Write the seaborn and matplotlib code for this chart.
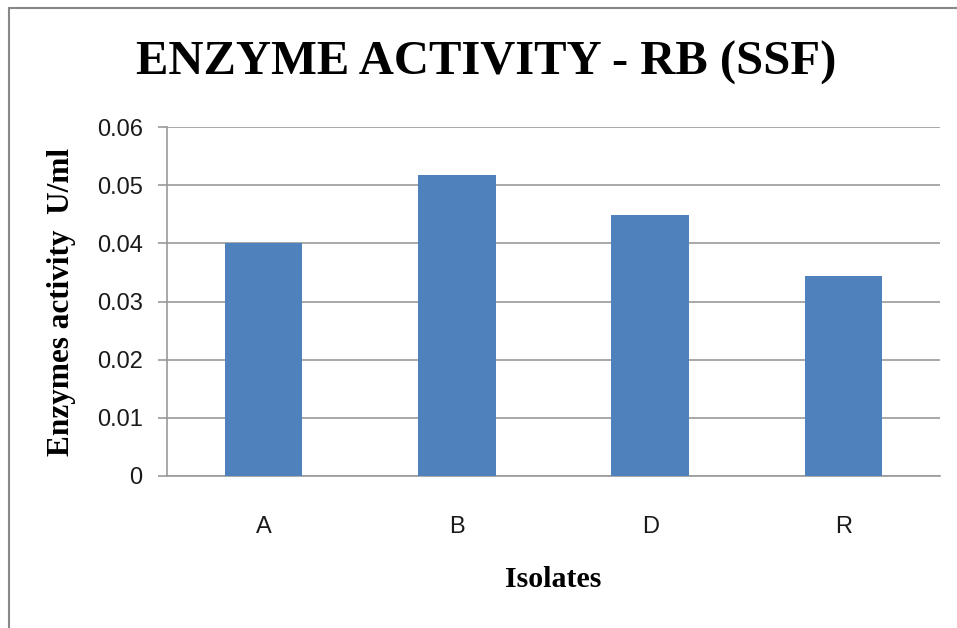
import numpy as np
import pandas as pd
import matplotlib
matplotlib.use("Agg")
import matplotlib.pyplot as plt
from matplotlib.lines import Line2D
import seaborn as sns

# data
isolates = ["A", "B", "D", "R"]
activity = [0.0400, 0.0518, 0.0449, 0.0344]

df = pd.DataFrame({"Isolates": isolates, "Activity": activity})

sns.set_style("white")
serif = ["Liberation Serif", "DejaVu Serif"]
sans = ["Liberation Sans", "DejaVu Sans"]

fig = plt.figure(figsize=(9.57, 6.28), dpi=100)
ax = fig.add_axes([167 / 957, 1 - 476 / 628, (940 - 167) / 957, (476 - 127) / 628])

sns.barplot(data=df, x="Isolates", y="Activity", color="#4F81BD",
            saturation=1, width=0.40, linewidth=0, ax=ax, zorder=3)

ax.set_xlim(-0.5, 3.5)
ax.set_ylim(0, 0.06)
ax.set_yticks(np.arange(0, 0.061, 0.01))
ax.set_yticklabels(["0", "0.01", "0.02", "0.03", "0.04", "0.05", "0.06"])

grid_col = "#9a9a9a"
ax.yaxis.grid(True, color=grid_col, linewidth=1.2, zorder=0)
ax.set_axisbelow(True)
for s in ["top", "right"]:
    ax.spines[s].set_visible(False)
for s in ["left", "bottom"]:
    ax.spines[s].set_color(grid_col)
    ax.spines[s].set_linewidth(1.2)

# x ticks at category boundaries, labels at centres
ax.set_xticks(np.arange(-0.5, 4, 1), minor=True)
ax.tick_params(axis="x", which="minor", length=6.5, color=grid_col, width=1.2)
ax.tick_params(axis="x", which="major", length=0, pad=29)
ax.tick_params(axis="y", which="major", length=6.5, color=grid_col, width=1.2,
               pad=11, direction="out")
ax.tick_params(left=True)
for lab in ax.get_xticklabels() + ax.get_yticklabels():
    lab.set_fontfamily(sans)
    lab.set_fontsize(17)
    lab.set_color("#1a1a1a")

ax.set_xlabel("Isolates", fontfamily=serif, fontweight="bold", fontsize=21.5,
              labelpad=20, color="black")
ax.set_ylabel("Enzymes activity  U/ml", fontfamily=serif, fontweight="bold",
              fontsize=22.5, labelpad=15, color="black")

fig.text(486 / 957, 1 - 63 / 628, "ENZYME ACTIVITY - RB (SSF)", ha="center",
         va="center", fontfamily=serif, fontweight="bold", fontsize=35, color="black")

# outer frame (left and top edges)
fig.add_artist(Line2D([9 / 957, 9 / 957], [0, 1 - 8 / 628], color="#888888", linewidth=1.5))
fig.add_artist(Line2D([9 / 957, 1], [1 - 8 / 628, 1 - 8 / 628], color="#888888", linewidth=1.5))

fig.savefig("out.png", dpi=100)
